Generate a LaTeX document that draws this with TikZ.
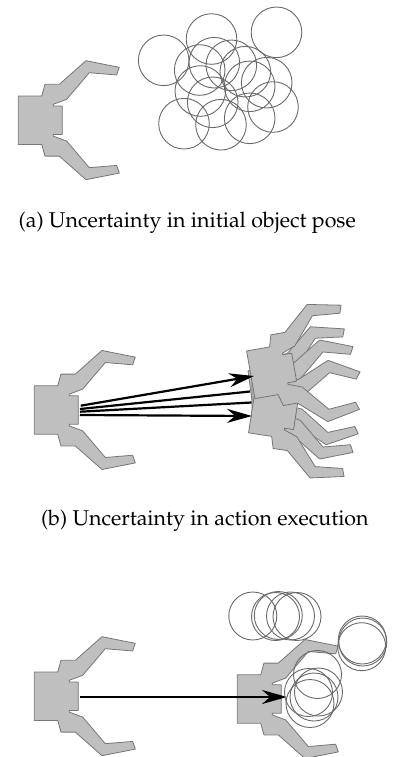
\documentclass[tikz,border=0pt]{standalone}
\usepackage[T1]{fontenc}
\usepackage{mathpazo}
\usetikzlibrary{arrows.meta}
\definecolor{gripfill}{RGB}{191,191,191}
\definecolor{gripline}{RGB}{118,118,118}
\definecolor{poseline}{RGB}{105,105,105}
% gripper outline, palm at the origin, fingers pointing along +x
\newcommand\DrawGripper[3][0]{% rotation, palm x, palm y
  \filldraw[gripper,shift={(#2,#3)},rotate=#1]
    (0,24.2) -- (23.4,24.2) -- (26.7,35.9) -- (41,35.9) -- (67.7,59.5)
    -- (101,52.9) -- (98.4,45.2) -- (71,47.5) -- (48.4,20.9) -- (35,15.9)
    -- (35,14.2) -- (44,14.2) -- (44,-14.2) -- (35,-14.2) -- (35,-15.9)
    -- (48.4,-20.9) -- (71,-47.5) -- (98.4,-45.2) -- (101,-52.9)
    -- (67.7,-59.5) -- (41,-35.9) -- (26.7,-35.9) -- (23.4,-24.2)
    -- (0,-24.2) -- cycle;
}
\tikzset{%
  >={Stealth[length=12.5pt,width=7pt]}, % heavy arrow heads
  gripper/.style={fill=gripfill,draw=gripline,line width=0.4pt,line join=round},
  pose/.style={draw=poseline,line width=0.45pt},
  motion/.style={line width=1.1pt},
  caption/.style={anchor=base west,inner sep=0pt,
    font=\fontsize{10.7}{13}\selectfont}
}

\begin{document}
\begin{tikzpicture}[x=0.5pt,y=-0.5pt]
\useasboundingbox (0,0) rectangle (395,757);

% (a) object pose uncertainty
\DrawGripper{18.3}{120.2}
\foreach \cx/\cy in {163.7/60.3,211.5/39,276.5/32.3,199.7/70,214.3/62.7,
    231.3/65.3,245.3/71.7,200.3/91,212.7/102.3,249.7/86.3,266.7/82.7,
    273/107,184/123.7,221/124.7,249.7/118.3}
  \draw[pose] (\cx,\cy) circle (25.3);
\node[caption] (capa) at (18.3,227.5) {(a) Uncertainty in initial object pose};

% (b) execution uncertainty
\DrawGripper{34.3}{410}
\DrawGripper[7.6]{251.2}{394.7}
\DrawGripper{252}{399.5}
\DrawGripper[-8.7]{252.2}{408.9}
\DrawGripper[10]{250.8}{374.8}
\coordinate (s1) at (80.7,405.7);
\coordinate (s2) at (80,409);
\coordinate (s3) at (80,411.7);
\coordinate (s4) at (80,415);
\coordinate (e1) at (254,376);
\coordinate (e2) at (250,391.5);
\coordinate (e3) at (251.5,402.5);
\coordinate (e4) at (252,416);
\draw[motion,->] (s1) -- (e1);
\draw[motion] (s2) -- (e2);
\draw[motion] (s3) -- (e3);
\draw[motion,->] (s4) -- (e4);
\node[caption] (capb) at (40.7,525.5) {(b) Uncertainty in action execution};

% (c) both together
\DrawGripper{34.3}{696.2}
\DrawGripper{237.3}{699}
\coordinate (cs) at (80,697);
\coordinate (ce) at (287,697);
\draw[motion,->] (cs) -- (ce);
\foreach \cx/\cy in {252.8/616,275.5/616.5,278.3/615.5,290.5/616,297/616.5,
    362.3/640,361.7/646.7,362.8/642,
    317.5/674.5,308.5/692.5,318.5/692,310/703.5,314/697}
  \draw[pose] (\cx,\cy) circle (24);
\end{tikzpicture}
\end{document}
